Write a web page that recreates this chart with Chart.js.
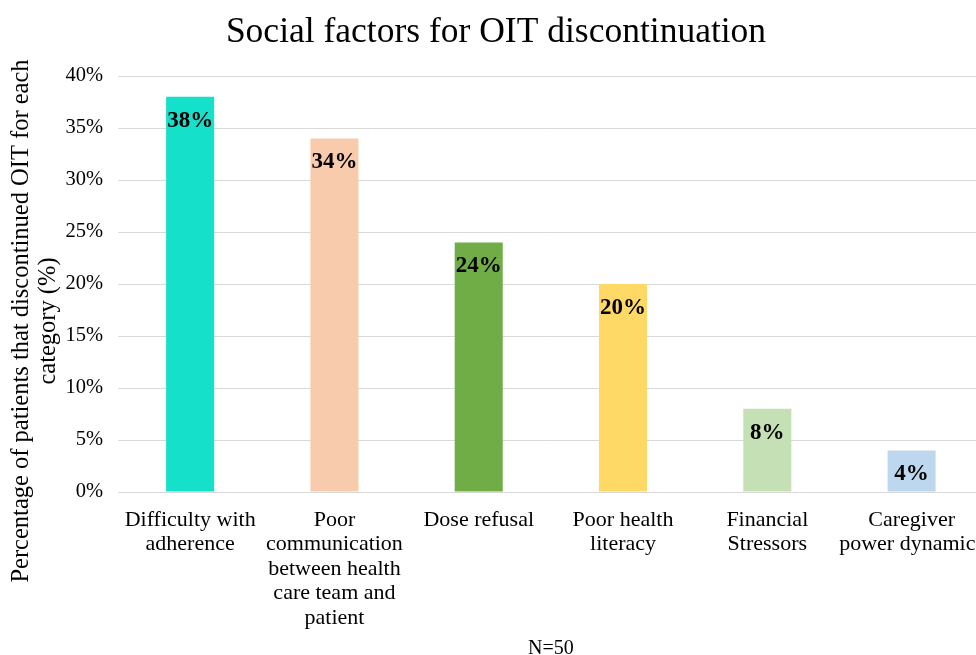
<!DOCTYPE html>
<html>
<head>
<meta charset="utf-8">
<script src="https://cdn.jsdelivr.net/npm/chart.js@4"></script>
<style>
    html, body { margin: 0; padding: 0; background: #fff; overflow: hidden; }
    #wrap { width: 992px; height: 655px; position: relative; }
</style>
</head>
<body>
<div id="wrap"><canvas id="chart"></canvas></div>
<script>
const categories = [
    ['Difficulty with', 'adherence'],
    ['Poor', 'communication', 'between health', 'care team and', 'patient'],
    ['Dose refusal'],
    ['Poor health', 'literacy'],
    ['Financial', 'Stressors'],
    ['Caregiver', 'power dynamics']
];
const percents = [38, 34, 24, 20, 8, 4];
const barColors = ['#15E0C9', '#F8CBAD', '#70AD47', '#FFD966', '#C5E0B4', '#BDD7EE'];
const yTicks = [0, 5, 10, 15, 20, 25, 30, 35, 40];
const yTitle = ['Percentage of patients that discontinued OIT for each', 'category (%)'];

const serif = '"Liberation Serif", "Times New Roman", serif';

// draws the value inside the top of each bar
const valueLabels = {
    id: 'valueLabels',
    afterDatasetsDraw(chart) {
        const ctx = chart.ctx;
        const meta = chart.getDatasetMeta(0);
        ctx.save();
        ctx.font = 'bold 23px ' + serif;
        ctx.fillStyle = '#000';
        ctx.textAlign = 'center';
        ctx.textBaseline = 'middle';
        meta.data.forEach((bar, i) => {
            ctx.fillText(percents[i] + '%', bar.x, bar.y + 24);
        });
        ctx.restore();
    }
};

// y axis title sits a bit lower than the plot centre in the original
const sideTitle = {
    id: 'sideTitle',
    afterDraw(chart) {
        const ctx = chart.ctx;
        ctx.save();
        ctx.font = '24.5px ' + serif;
        ctx.fillStyle = '#000';
        ctx.textAlign = 'center';
        ctx.textBaseline = 'middle';
        ctx.translate(0, 321);
        ctx.rotate(-Math.PI / 2);
        ctx.fillText(yTitle[0], 0, 22);
        ctx.fillText(yTitle[1], 0, 49);
        ctx.restore();
    }
};

const ctx = document.getElementById('chart').getContext('2d');
// eslint-disable-next-line no-undef, no-unused-vars
const myChart = new Chart(ctx, {
    type: 'bar',
    data: {
        labels: categories,
        datasets: [{
            data: percents,
            backgroundColor: barColors,
            borderWidth: 0,
            barPercentage: 0.333,
            categoryPercentage: 1
        }]
    },
    options: {
        responsive: true,
        maintainAspectRatio: false,
        animation: false,
        layout: { padding: { top: 5, left: 0, right: 0, bottom: 0 } },
        plugins: {
            legend: { display: false },
            tooltip: { enabled: false },
            title: {
                display: true,
                text: 'Social factors for OIT discontinuation',
                color: '#000',
                font: { family: serif, size: 35.5, weight: 'normal' },
                padding: { top: 6, bottom: 22.4 }
            }
        },
        scales: {
            x: {
                afterFit(axis) { axis.height = 163; },
                grid: { display: false },
                border: { display: true, color: '#d9d9d9', width: 1 },
                ticks: {
                    color: '#000',
                    font: { family: serif, size: 22, lineHeight: 1.11 },
                    maxRotation: 0,
                    autoSkip: false,
                    padding: 8
                },
                title: {
                    display: true,
                    text: 'N=50',
                    color: '#000',
                    font: { family: serif, size: 20, lineHeight: 1 },
                    padding: { top: 0, bottom: -4 }
                }
            },
            y: {
                min: 0,
                max: 40,
                afterFit(axis) { axis.width = 118; },
                afterBuildTicks(axis) {
                    axis.ticks = yTicks.map(v => ({ value: v }));
                },
                grid: { color: '#d9d9d9', drawTicks: false },
                border: { display: false },
                ticks: {
                    color: '#000',
                    font: { family: serif, size: 20.5 },
                    padding: 15,
                    callback: v => v + '%'
                }
            }
        }
    },
    plugins: [valueLabels, sideTitle]
});
</script>
</body>
</html>
